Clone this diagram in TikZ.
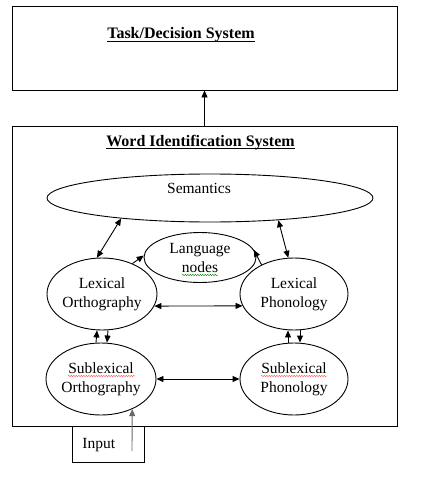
\documentclass[tikz,border=0pt]{standalone}
\usepackage{fontspec}
\setmainfont{Liberation Serif}
\usetikzlibrary{arrows.meta,shapes.geometric,decorations.pathmorphing}
\newcommand\myul[1]{\setbox0\hbox{#1}\rlap{\rule[-2.6pt]{\wd0}{0.9pt}}\box0}
\begin{document}
\begin{tikzpicture}[x=1pt,y=-1pt, line width=0.9pt,
  box/.style={draw, rectangle, inner sep=0pt},
  oval/.style={draw, ellipse, inner xsep=-10pt, inner ysep=0pt, align=center, font=\fontsize{15.5}{19}\selectfont},
  lbl/.style={font=\fontsize{15.5}{19}\selectfont, inner sep=0pt, anchor=base},
  ttl/.style={font=\fontsize{16}{19}\selectfont\bfseries, inner sep=0pt, anchor=base},
  arr/.style={-{Triangle[length=7pt,width=6pt]}},
  darr/.style={{Triangle[length=7pt,width=6pt]}-{Triangle[length=7pt,width=6pt]}},
  wavy/.style={decorate, decoration={snake, amplitude=0.7pt, segment length=2.5pt}, line width=0.45pt}]
\useasboundingbox (0,0) rectangle (423,487);
\fill[white] (0,0) rectangle (423,487);
% boxes
\node[box, minimum width=385pt, minimum height=84pt] (task) at (204.5,48) {};
\node[box, minimum width=385pt, minimum height=300pt] (wis) at (204.5,276) {};
\node[ttl] (tasktitle) at (181,39) {\myul{Task/Decision System}};
\node[ttl] (wistitle) at (200.5,146) {\myul{Word Identification System}};
% ellipses
\node[draw, ellipse, minimum width=326pt, minimum height=48pt, inner sep=0pt] (sem) at (210,198) {};
\node[lbl] (semtxt) at (199,193) {Semantics};
\node[oval, minimum width=112pt, minimum height=50pt] (lang) at (200,257.5) {Language\\nodes};
\node[oval, minimum width=110pt, minimum height=72pt] (lo) at (102,294) {Lexical\\Orthography};
\node[oval, minimum width=108pt, minimum height=72pt] (lp) at (294,294) {Lexical\\Phonology};
\node[oval, minimum width=110pt, minimum height=72pt] (so) at (101,379) {Sublexical\\Orthography};
\node[oval, minimum width=108pt, minimum height=72pt] (sp) at (294,379) {Sublexical\\Phonology};
% input
\node[box, minimum width=72pt, minimum height=36pt] (inp) at (108,444) {};
\node[lbl, anchor=base west] (inptxt) at (82,448) {Input};
\coordinate (inbot) at (132,451);
% spelling squiggles
\draw[wavy, red!65] (68,376) -- (135,376);
\draw[wavy, red!65] (261,376) -- (327,376);
\draw[wavy, green!55!black] (182,275) -- (218,275);
% connectors
\draw[arr] (wis.north) -- (task.south);
\draw[darr] (sem.193) -- (lo.98);
\draw[darr] (sem.-18) -- (lp.99);
\draw[darr] (lo.-13) -- (lp.193);
\draw[arr] (lo.45) -- (lang.178);
\draw[arr] (lp.138) -- (lang.8);
\draw[arr] ([xshift=-5pt]so.north) -- ([xshift=-5pt]lo.south);
\draw[arr] ([xshift=6pt]lo.south) -- ([xshift=6pt]so.north);
\draw[arr] ([xshift=-6pt]sp.north) -- ([xshift=-6pt]lp.south);
\draw[arr] ([xshift=6pt]lp.south) -- ([xshift=6pt]sp.north);
\draw[darr] (so.east) -- (sp.west);
\draw[arr, draw=black!60] (inbot) -- (so.-44);
\end{tikzpicture}
\end{document}
